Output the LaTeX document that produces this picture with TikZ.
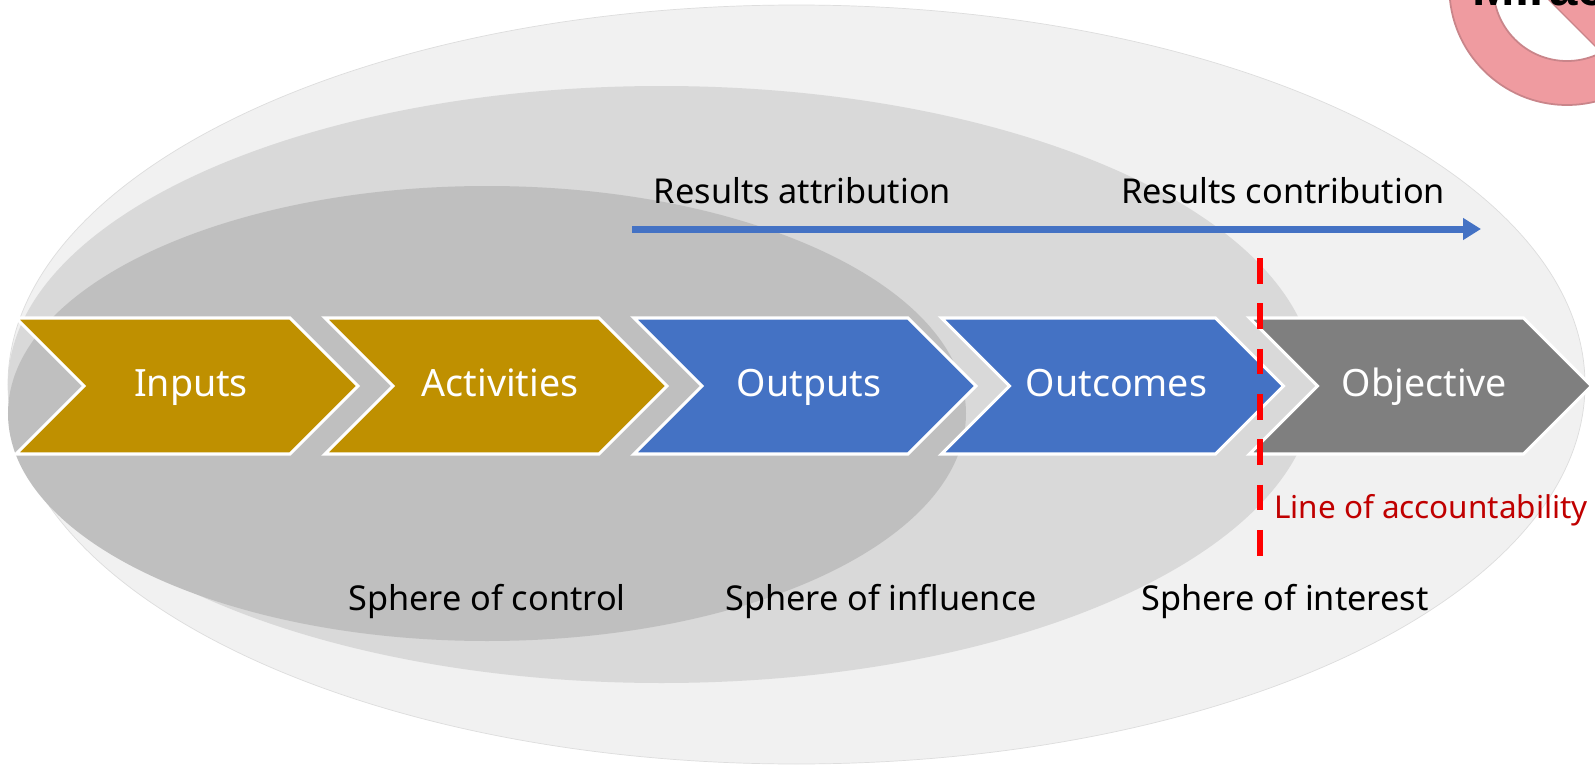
\documentclass[tikz,border=0pt]{standalone}
\usepackage{xcolor}
\usepackage{fontspec}
\setmainfont{Noto Sans}
\newfontfamily\titlefont{Liberation Sans}
\usetikzlibrary{arrows.meta, shapes.symbols}
\definecolor{goldchev}{HTML}{BF9000}
\definecolor{bluechev}{HTML}{4472C4}
\definecolor{graychev}{HTML}{7F7F7F}
\definecolor{outersph}{HTML}{F1F1F1}
\definecolor{outeredge}{HTML}{DDDDDD}
\definecolor{midsph}{HTML}{D9D9D9}
\definecolor{innersph}{HTML}{BFBFBF}
\definecolor{nopink}{HTML}{EF9BA0}
\definecolor{noedge}{HTML}{C9858A}
\definecolor{linered}{HTML}{C00000}
\tikzset{
    chev/.style={signal, signal to=east, signal from=west, signal pointer angle=90,
        draw=white, line width=0.9pt, minimum width=3.42cm, minimum height=1.36cm,
        inner sep=0pt, text=white, text height=0.3cm, text depth=0.1cm,
        execute at begin node={\hspace*{0.08cm}}, font=\fontsize{10.7}{12}\selectfont},
    lbl/.style={text=black, inner sep=0pt, font=\fontsize{9.75}{12}\selectfont},
}

\begin{document}
\begin{tikzpicture}
    \clip (0,0) rectangle (15.95,7.64);
    \fill[white] (0,0) rectangle (15.95,7.64);
    % Simbolo no canto:
    \def\ring{(15.67,7.767) circle (1.177cm)}
    \def\hole{(15.67,7.767) circle (0.737cm)}
    \fill[fill=nopink, even odd rule, draw=noedge, line width=0.5pt] \ring \hole;
    \begin{scope}
        \clip \hole;
        \draw[draw=noedge, double=nopink, double distance=0.42cm, line width=0.4pt]
            (14.87,8.567) -- (16.47,6.967);
    \end{scope}
    \node (title) [anchor=base west, inner sep=0pt, font=\titlefont\bfseries\fontsize{14.5}{18}\selectfont] at (14.72,7.59) {Mirac};
    % Esferas:
    \fill[fill=outersph, draw=outeredge, line width=0.2pt] (7.965,3.795) ellipse (7.885cm and 3.795cm);
    \fill[fill=midsph] (6.615,3.795) ellipse (6.535cm and 2.985cm);
    \fill[fill=innersph] (4.87,3.505) ellipse (4.79cm and 2.275cm);
    % Cadeia:
    \node[chev, fill=goldchev] (inputs) at (1.87,3.78) {Inputs};
    \node[chev, fill=goldchev] (activities) at (4.96,3.78) {Activities};
    \node[chev, fill=bluechev] (outputs) at (8.05,3.78) {Outputs};
    \node[chev, fill=bluechev] (outcomes) at (11.125,3.78) {Outcomes};
    \node[chev, fill=graychev] (objective) at (14.205,3.78) {Objective};
    % Seta dos resultados:
    \coordinate (resstart) at (6.32,5.35);
    \coordinate (resend) at (14.81,5.35);
    \draw[bluechev, line width=0.07cm, -{Triangle[length=0.18cm, width=0.21cm]}] (resstart) -- (resend);
    \node[lbl] (attrib) at (8.025,5.73) {Results attribution};
    \node[lbl] (contrib) at (12.83,5.73) {Results contribution};
    % Linha vermelha:
    \coordinate (linetop) at (12.595,5.06);
    \coordinate (linebot) at (12.595,2.07);
    \draw[red, line width=0.06cm, dash pattern=on 0.257cm off 0.196cm] (linetop) -- (linebot);
    \node[lbl, text=linered, font=\fontsize{8.95}{10}\selectfont] (account) at (14.31,2.54) {Line of accountability};
    % Nomes das esferas:
    \node[lbl] (control) at (4.87,1.62) {Sphere of control};
    \node[lbl] (influence) at (8.81,1.62) {Sphere of influence};
    \node[lbl] (interest) at (12.85,1.62) {Sphere of interest};
\end{tikzpicture}
\end{document}
